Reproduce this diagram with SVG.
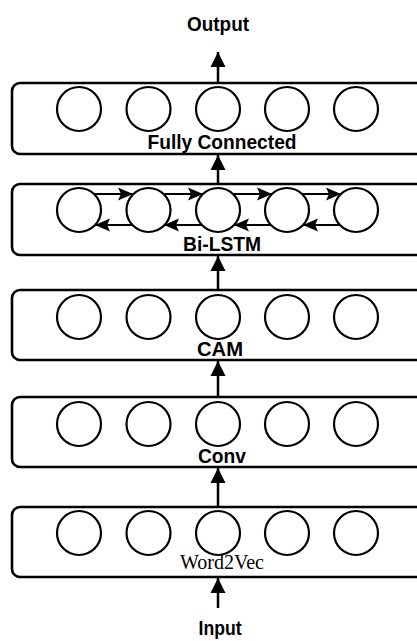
<svg xmlns="http://www.w3.org/2000/svg" width="417" height="641" viewBox="0 0 417 641">
<style>
.box{fill:#fff;stroke:#000;stroke-width:2.6}
.c{fill:#fff;stroke:#000;stroke-width:2.2}
.lbl{font-family:"Liberation Sans",Arial,sans-serif;font-weight:bold;font-size:21px;text-anchor:middle;fill:#000}
.ser{font-family:"Liberation Serif","Times New Roman",serif;font-size:22px;text-anchor:middle;fill:#000}
.up{stroke:#000;stroke-width:2.5;fill:none;marker-end:url(#ah)}
.h{stroke:#000;stroke-width:2.2;fill:none;marker-end:url(#sh)}
</style>
<defs>
<marker id="ah" markerUnits="userSpaceOnUse" markerWidth="16" markerHeight="16" viewBox="0 0 16 16" refX="15" refY="8" orient="auto"><path d="M0,0.5 L15,8 L0,15.5 Z" fill="#000"/></marker>
<marker id="sh" markerUnits="userSpaceOnUse" markerWidth="16" markerHeight="16" viewBox="0 0 16 16" refX="15" refY="8" orient="auto"><path d="M0,1.5 L15,8 L0,14.5 L3,8 Z" fill="#000"/></marker>
<g id="row"><circle class="c" cx="79" cy="0" r="22"/><circle class="c" cx="148.5" cy="0" r="22"/><circle class="c" cx="218" cy="0" r="22"/><circle class="c" cx="287" cy="0" r="22"/><circle class="c" cx="356" cy="0" r="22"/></g>
</defs>
<text class="lbl" x="218" y="31" textLength="62" lengthAdjust="spacingAndGlyphs">Output</text>
<text class="lbl" x="220" y="635" textLength="43" lengthAdjust="spacingAndGlyphs">Input</text>
<g id="fc"><rect class="box" x="12" y="83" width="420" height="71" rx="8"/><use href="#row" y="109"/><text class="lbl" x="222" y="149" textLength="149" lengthAdjust="spacingAndGlyphs">Fully Connected</text></g>
<g id="bilstm"><rect class="box" x="12" y="184" width="420" height="71" rx="8"/><use href="#row" y="210"/><text class="lbl" x="222" y="251" textLength="78" lengthAdjust="spacingAndGlyphs">Bi-LSTM</text></g>
<g id="cam"><rect class="box" x="12" y="290" width="420" height="70" rx="8"/><use href="#row" y="317"/><text class="lbl" x="220" y="356" textLength="46" lengthAdjust="spacingAndGlyphs">CAM</text></g>
<g id="conv"><rect class="box" x="12" y="397" width="420" height="70" rx="8"/><use href="#row" y="424"/><text class="lbl" x="222" y="463" textLength="48" lengthAdjust="spacingAndGlyphs">Conv</text></g>
<g id="w2v"><rect class="box" x="12" y="507" width="420" height="70" rx="8"/><use href="#row" y="533"/><text class="ser" x="222" y="569" textLength="84" lengthAdjust="spacingAndGlyphs">Word2Vec</text></g>
<g id="connectors">
<line class="up" x1="218" y1="83" x2="218" y2="52"/>
<line class="up" x1="218" y1="184" x2="218" y2="155"/>
<line class="up" x1="218" y1="290" x2="218" y2="256"/>
<line class="up" x1="218" y1="397" x2="218" y2="361"/>
<line class="up" x1="218" y1="507" x2="218" y2="468"/>
<line class="up" x1="218" y1="608" x2="218" y2="578"/>
<line class="h" x1="95" y1="194" x2="133" y2="194"/>
<line class="h" x1="164" y1="194" x2="203" y2="194"/>
<line class="h" x1="233" y1="194" x2="272" y2="194"/>
<line class="h" x1="302" y1="194" x2="341" y2="194"/>
<line class="h" x1="132" y1="225" x2="95" y2="225"/>
<line class="h" x1="202" y1="225" x2="164" y2="225"/>
<line class="h" x1="271" y1="225" x2="234" y2="225"/>
<line class="h" x1="340" y1="225" x2="303" y2="225"/>
</g>
</svg>
